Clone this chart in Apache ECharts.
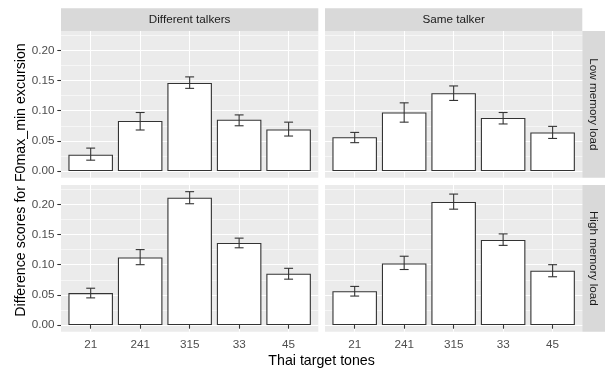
<!DOCTYPE html>
<html><head><meta charset="utf-8">
<script src="https://cdn.jsdelivr.net/npm/echarts@6/dist/echarts.min.js"></script>
<style>html,body{margin:0;padding:0;background:#fff}#c{width:605px;height:369px}</style>
</head><body><div id="c"></div>
<script>
// ---- data ----
const tones = ['21', '241', '315', '33', '45'];
const talkers = ['Different talkers', 'Same talker'];
const loads = ['Low memory load', 'High memory load'];
const yTicks = [0, 0.05, 0.10, 0.15, 0.20];
const yMinorTicks = [0.025, 0.075, 0.125, 0.175, 0.225];
const xTitle = 'Thai target tones';
const yTitle = 'Difference scores for F0max_min excursion';

// Different talkers, low memory load
const diffLowMean  = [0.027, 0.083, 0.146, 0.085, 0.069];
const diffLowLower = [0.018, 0.068, 0.137, 0.075, 0.058];
const diffLowUpper = [0.038, 0.097, 0.156, 0.093, 0.081];
// Same talker, low memory load
const sameLowMean  = [0.056, 0.097, 0.129, 0.088, 0.064];
const sameLowLower = [0.047, 0.081, 0.117, 0.078, 0.054];
const sameLowUpper = [0.064, 0.113, 0.141, 0.097, 0.074];
// Different talkers, high memory load
const diffHighMean  = [0.053, 0.112, 0.211, 0.136, 0.085];
const diffHighLower = [0.045, 0.100, 0.201, 0.128, 0.076];
const diffHighUpper = [0.061, 0.125, 0.221, 0.144, 0.094];
// Same talker, high memory load
const sameHighMean  = [0.056, 0.102, 0.204, 0.141, 0.090];
const sameHighLower = [0.048, 0.092, 0.192, 0.132, 0.080];
const sameHighUpper = [0.064, 0.114, 0.217, 0.151, 0.100];

// ---- build ----
const panels = [
  {row: 0, col: 0, mean: diffLowMean, lo: diffLowLower, hi: diffLowUpper},
  {row: 0, col: 1, mean: sameLowMean, lo: sameLowLower, hi: sameLowUpper},
  {row: 1, col: 0, mean: diffHighMean, lo: diffHighLower, hi: diffHighUpper},
  {row: 1, col: 1, mean: sameHighMean, lo: sameHighLower, hi: sameHighUpper}
];
const FONT = '"Liberation Sans", Arial, sans-serif';
const allHi = [].concat(diffLowUpper, sameLowUpper, diffHighUpper, sameHighUpper);
const M = Math.max.apply(null, allHi);
const yMin = -0.05 * M, yMax = 1.05 * M;
const xPos = tones.map((t, i) => i + 1);

const colLeft = [61, 325], rowTop = [31, 185];
const PW = 257.3, PH = 146.7;

const grid = [], xAxis = [], yAxis = [], series = [];
panels.forEach((p, g) => {
  grid.push({left: colLeft[p.col], top: rowTop[p.row], width: PW, height: PH,
    show: true, backgroundColor: '#ebebeb', borderWidth: 0, containLabel: false});
  xAxis.push({type: 'value', gridIndex: g, position: 'bottom', min: 0.4, max: 5.6,
    axisLine: {show: false},
    axisTick: {show: p.row === 1, customValues: xPos, length: 3.7, lineStyle: {color: '#333', width: 1.07}},
    axisLabel: {show: p.row === 1, customValues: xPos, formatter: v => tones[Math.round(v) - 1],
      color: '#4d4d4d', fontSize: 11.7, fontFamily: FONT, margin: 6.6},
    splitLine: {show: true, lineStyle: {color: '#ffffff', width: 1.07}}});
  yAxis.push({type: 'value', gridIndex: g, position: 'left', min: yMin, max: yMax,
    axisLine: {show: false},
    axisTick: {show: false, customValues: yMinorTicks},
    axisLabel: {show: false},
    splitLine: {show: true, lineStyle: {color: '#ffffff', width: 0.55}}});
  yAxis.push({type: 'value', gridIndex: g, position: 'left', min: yMin, max: yMax,
    axisLine: {show: false},
    axisTick: {show: p.col === 0, customValues: yTicks, length: 3.7, lineStyle: {color: '#333', width: 1.07}},
    axisLabel: {show: p.col === 0, customValues: yTicks, formatter: v => v.toFixed(2),
      color: '#4d4d4d', fontSize: 11.7, fontFamily: FONT, margin: 6.6},
    splitLine: {show: true, lineStyle: {color: '#ffffff', width: 1.07}}});
  series.push({type: 'bar', xAxisIndex: g, yAxisIndex: 2 * g + 1,
    data: p.mean.map((v, i) => [i + 1, v]), barWidth: '90%', silent: true, z: 2,
    itemStyle: {color: '#ffffff', borderColor: '#333333', borderWidth: 1.1}});
  series.push({type: 'custom', xAxisIndex: g, yAxisIndex: 2 * g + 1, z: 3, silent: true,
    data: p.mean.map((v, i) => [i + 1, p.lo[i], p.hi[i]]),
    encode: {x: 0, y: [1, 2]},
    renderItem: (params, api) => {
      const x = api.value(0), lo = api.value(1), hi = api.value(2);
      const a = api.coord([x, lo]), b = api.coord([x, hi]);
      const l = api.coord([x - 0.09, hi]), r = api.coord([x + 0.09, hi]);
      const h = (r[0] - l[0]) / 2;
      const st = {stroke: '#333333', lineWidth: 1.1};
      return {type: 'group', children: [
        {type: 'line', shape: {x1: a[0], y1: a[1], x2: b[0], y2: b[1]}, style: st},
        {type: 'line', shape: {x1: b[0] - h, y1: b[1], x2: b[0] + h, y2: b[1]}, style: st},
        {type: 'line', shape: {x1: a[0] - h, y1: a[1], x2: a[0] + h, y2: a[1]}, style: st}
      ]};
    }});
});

const graphic = [];
talkers.forEach((t, c) => {
  graphic.push({type: 'rect', left: colLeft[c], top: 8.3, shape: {width: PW, height: 22.7}, style: {fill: '#d9d9d9'}, silent: true});
  graphic.push({type: 'text', x: colLeft[c] + PW / 2, y: 19.8, silent: true,
    style: {text: t, textAlign: 'center', textVerticalAlign: 'middle', fill: '#1a1a1a', fontSize: 11.7, fontFamily: FONT}});
});
loads.forEach((t, r) => {
  graphic.push({type: 'rect', left: 582.3, top: rowTop[r], shape: {width: 22.7, height: PH}, style: {fill: '#d9d9d9'}, silent: true});
  graphic.push({type: 'text', x: 593.6, y: rowTop[r] + PH / 2, rotation: -Math.PI / 2, silent: true,
    style: {text: t, textAlign: 'center', textVerticalAlign: 'middle', fill: '#1a1a1a', fontSize: 11.7, fontFamily: FONT}});
});
graphic.push({type: 'text', x: 321.6, y: 361, silent: true,
  style: {text: xTitle, textAlign: 'center', textVerticalAlign: 'middle', fill: '#000', fontSize: 14.2, fontFamily: FONT}});
graphic.push({type: 'text', x: 21, y: 180, rotation: Math.PI / 2, silent: true,
  style: {text: yTitle, textAlign: 'center', textVerticalAlign: 'middle', fill: '#000', fontSize: 14.2, fontFamily: FONT}});

const chart = echarts.init(document.getElementById('c'), null, {renderer: 'canvas'});
chart.setOption({animation: false, backgroundColor: '#ffffff', grid, xAxis, yAxis, series, graphic});
</script>
</body></html>
